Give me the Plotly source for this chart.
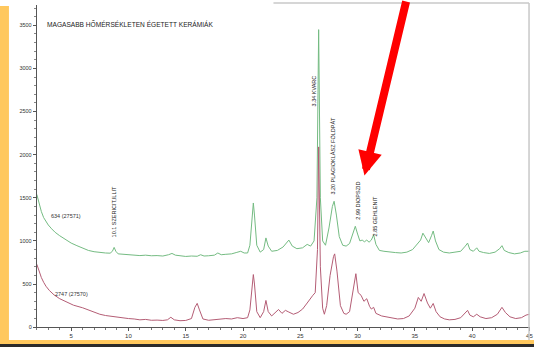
import plotly.graph_objects as go

# ---- data (2-theta in degrees, counts) ----
green_x = [2.0, 2.2, 2.4, 2.6, 2.8, 3.0, 3.3, 3.6, 4.0, 4.5, 5.0, 5.5, 6.0, 6.5, 7.0, 7.5, 8.0, 8.4, 8.6, 8.75,
           8.9, 9.1, 9.5, 10.0, 10.5, 11.0, 11.5, 12.0, 12.5, 13.0, 13.5, 13.8, 14.1, 14.5, 15.0, 15.5, 16.0,
           16.3, 16.6, 17.0, 17.5, 17.8, 18.1, 18.5, 19.0, 19.4, 19.8, 20.1, 20.4, 20.6, 20.8, 20.9, 21.0,
           21.2, 21.5, 21.8, 22.0, 22.2, 22.5, 23.0, 23.5, 24.0, 24.3, 24.7, 25.2, 25.6, 25.9, 26.2, 26.45,
           26.6, 26.75, 26.95, 27.2, 27.5, 27.8, 27.95, 28.15, 28.4, 28.7, 29.0, 29.3, 29.6, 29.8, 30.0, 30.2,
           30.4, 30.6, 30.8, 31.0, 31.2, 31.4, 31.6, 31.9, 32.3, 32.8, 33.3, 33.8, 34.3, 34.8, 35.2, 35.5,
           35.7, 35.9, 36.2, 36.45, 36.6, 36.8, 37.1, 37.5, 38.0, 38.5, 39.0, 39.4, 39.6, 39.8, 40.1, 40.4,
           40.6, 41.0, 41.5, 42.0, 42.4, 42.6, 42.8, 43.2, 43.7, 44.2, 44.6, 45.0]
green_y = [1540, 1420, 1340, 1270, 1220, 1185, 1140, 1100, 1060, 1015, 975, 945, 915, 890, 875, 865, 860, 858, 880, 925,
           880, 850, 845, 840, 835, 830, 835, 828, 830, 825, 840, 855, 835, 825, 820, 825, 822,
           840, 825, 828, 835, 860, 840, 845, 850, 865, 880, 860, 860, 950, 1300, 1440, 1300,
           950, 870, 900, 1035, 940, 880, 890, 930, 1010, 940, 910, 920, 960, 940, 1000, 1500,
           3450, 1500, 1000, 950, 1150, 1400, 1460, 1300, 1050, 950, 940, 970, 1100, 1170, 1080, 1000,
           1010, 990, 1010, 985, 1010, 1070, 960, 890, 880, 870, 865, 860, 870, 900, 960, 1010,
           1090, 1040, 980, 1060, 1115, 1000, 900, 870, 860, 870, 880, 940, 975, 900, 880, 920,
           880, 865, 855, 870, 910, 945, 890, 865, 850, 860, 880, 880]

red_x = [2.0, 2.2, 2.4, 2.6, 2.8, 3.1, 3.5, 4.0, 4.6, 5.2, 6.0, 6.5, 7.0, 7.5, 8.0, 8.5, 9.0, 9.5, 10.0, 10.5,
         11.0, 11.5, 12.0, 12.5, 13.0, 13.4, 13.7, 14.0, 14.5, 15.0, 15.5, 15.8, 16.0, 16.2, 16.5, 17.0,
         17.5, 18.0, 18.5, 19.0, 19.5, 20.0, 20.4, 20.6, 20.8, 20.9, 21.0, 21.2, 21.5, 21.8, 22.0, 22.2,
         22.5, 22.8, 23.1, 23.4, 23.7, 24.0, 24.4, 24.8, 25.2, 25.6, 25.9, 26.1, 26.3, 26.5, 26.6, 26.75,
         26.95, 27.1, 27.3, 27.6, 27.9, 28.0, 28.2, 28.5, 28.8, 29.0, 29.3, 29.6, 29.85, 30.05, 30.3, 30.55,
         30.8, 31.05, 31.2, 31.4, 31.6, 32.1, 32.5, 33.0, 33.5, 34.0, 34.5, 35.0, 35.3, 35.55, 35.8, 36.1,
         36.35, 36.6, 36.85, 37.2, 37.6, 38.0, 38.5, 39.0, 39.4, 39.6, 39.8, 40.1, 40.4, 40.7, 41.2, 41.7,
         42.2, 42.6, 42.9, 43.3, 43.8, 44.3, 44.7, 45.0]
red_y = [730, 640, 575, 520, 475, 425, 375, 330, 290, 255, 225, 200, 170, 150, 135, 125, 115, 110, 100, 95,
         85, 90, 80, 82, 78, 85, 115, 85, 75, 78, 100, 230, 276, 200, 95, 80,
         85, 90, 100, 95, 110, 100, 110, 200, 520, 610, 500, 180, 110, 180, 310, 180,
         130, 170, 205, 160, 195, 175, 150, 170, 210, 280, 340, 370, 400, 900, 2090, 700,
         220, 150, 250, 600, 820, 850, 650, 250, 160, 150, 180, 450, 620, 400, 370, 300,
         330, 240, 210, 230, 160, 130, 120, 100, 95, 100, 130, 220, 345, 300, 390, 280,
         220, 275, 180, 120, 95, 85, 90, 110, 160, 195, 140, 120, 150, 120, 100, 110,
         150, 230, 170, 120, 100, 110, 140, 150]

y_ticks = [0, 500, 1000, 1500, 2000, 2500, 3000, 3500]
x_ticks = [5, 10, 15, 20, 25, 30, 35, 40, 45]

title_text = "MAGASABB HŐMÉRSÉKLETEN ÉGETETT KERÁMIÁK"
sample_labels = ["634 (27571)", "2747 (27570)"]
peak_labels = ["10.1 SZERICIT,ILLIT", "3.34 KVARC", "3.20 PLAGIOKLÁSZ FÖLDPÁT", "2.99 DIOPSZID", "2.85 GEHLENIT"]
peak_label_x = [8.7, 26.17, 27.9, 30.0, 31.48]
peak_label_y = [1030, 2550, 1520, 1230, 1035]

W, H = 537, 350
FONT = "Liberation Sans, Arial, sans-serif"

fig = go.Figure()
fig.add_trace(go.Scatter(x=green_x, y=green_y, mode="lines",
                         line=dict(color="#74bb82", width=1), showlegend=False))
fig.add_trace(go.Scatter(x=red_x, y=red_y, mode="lines",
                         line=dict(color="#b45d75", width=1), showlegend=False))

axis_col = "#555555"
fig.update_layout(
    width=W, height=H, autosize=False,
    margin=dict(l=0, r=0, t=0, b=0),
    paper_bgcolor="white", plot_bgcolor="white",
    font=dict(family=FONT, size=6, color="#333333"),
    xaxis=dict(domain=[37 / W, 533 / W], range=[2.0, 45.05], tickvals=x_ticks,
               showgrid=False, zeroline=False, showline=True, linecolor=axis_col, linewidth=1,
               ticks="outside", ticklen=3, tickcolor=axis_col, tickwidth=1,
               tickfont=dict(size=6, color="#333333"),
               minor=dict(dtick=1, tick0=0, ticks="outside", ticklen=2, tickcolor="#777777")),
    yaxis=dict(domain=[(H - 330) / H, (H - 5) / H], range=[0, 3736], tickvals=y_ticks,
               showgrid=False, zeroline=False, showline=True, linecolor=axis_col, linewidth=1,
               ticks="outside", ticklen=3, tickcolor=axis_col, tickwidth=1,
               tickfont=dict(size=5.5, color="#333333"),
               minor=dict(dtick=100, tick0=0, ticks="outside", ticklen=2, tickcolor="#888888")),
)

# decorative frame: yellow strips, dark bottom line, light gray border
fig.add_shape(type="rect", xref="paper", yref="paper", x0=0, x1=9 / W, y0=3 / H, y1=(H - 6) / H,
              fillcolor="#ffc85e", line=dict(width=0), layer="below")
fig.add_shape(type="rect", xref="paper", yref="paper", x0=0, x1=1, y0=3 / H, y1=7 / H,
              fillcolor="#ffc85e", line=dict(width=0))
fig.add_shape(type="rect", xref="paper", yref="paper", x0=0, x1=1, y0=0, y1=3 / H,
              fillcolor="#2b2b2b", line=dict(width=0))
fig.add_shape(type="line", xref="paper", yref="paper", x0=275 / W, x1=532 / W, y0=(H - 3) / H, y1=(H - 3) / H,
              line=dict(color="#c8c8c8", width=1.5))
fig.add_shape(type="line", xref="paper", yref="paper", x0=532 / W, x1=532 / W, y0=7 / H, y1=(H - 3) / H,
              line=dict(color="#c8c8c8", width=1.5))

# title
fig.add_annotation(text=title_text, xref="paper", yref="paper", x=45 / W, y=(H - 24) / H,
                   xanchor="left", yanchor="middle", showarrow=False,
                   font=dict(size=6.6, color="#222222", family=FONT))

# sample labels
fig.add_annotation(text=sample_labels[0], x=3.1, y=1290, xanchor="left", yanchor="middle",
                   showarrow=False, font=dict(size=5.5, color="#333333"))
fig.add_annotation(text=sample_labels[1], x=3.4, y=390, xanchor="left", yanchor="middle",
                   showarrow=False, font=dict(size=5.5, color="#333333"))

# peak labels (rotated)
for t, px, py in zip(peak_labels, peak_label_x, peak_label_y):
    fig.add_annotation(text=t, x=px, y=py, textangle=-90, xanchor="center", yanchor="bottom",
                       showarrow=False, borderpad=0, font=dict(size=5.5, color="#222222"))

# red arrow
fig.add_annotation(x=30.6, y=1760, ax=42, ay=-185, showarrow=True, text="",
                   arrowhead=2, arrowsize=0.6, arrowwidth=8, arrowcolor="#ff0000", standoff=0)

fig.write_html("out.html")
